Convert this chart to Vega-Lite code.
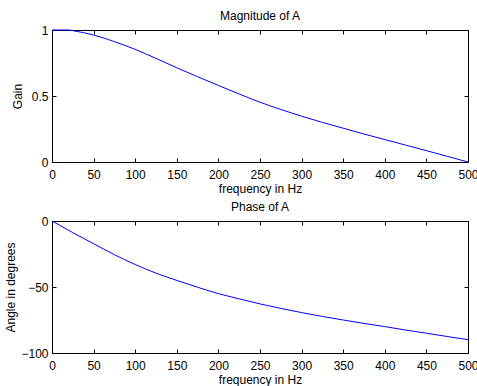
{
  "$schema": "https://vega.github.io/schema/vega-lite/v6.json",
  "padding": {"left": 4, "top": 9, "right": 4, "bottom": 2},
  "background": "white",
  "config": {
    "font": "Liberation Sans",
    "view": {"stroke": "black", "strokeWidth": 1},
    "axis": {"labelFont": "Liberation Sans", "titleFont": "Liberation Sans", "labelFontSize": 12, "titleFontSize": 12, "titleFontWeight": "normal", "labelColor": "black", "titleColor": "black", "domainColor": "black", "tickColor": "black", "grid": false, "tickSize": -4, "labelFlush": false, "labelOverlap": false},
    "axisX": {"labelPadding": 11, "titlePadding": 3},
    "axisY": {"labelPadding": 8},
    "title": {"font": "Liberation Sans", "fontSize": 12, "fontWeight": "normal", "color": "black", "offset": 1}
  },
  "datasets": {
    "mag": [
      {"f": 0, "v": 1}, {"f": 10, "v": 1}, {"f": 20, "v": 1}, {"f": 25, "v": 0.995},
      {"f": 50, "v": 0.962}, {"f": 75, "v": 0.912}, {"f": 100, "v": 0.853}, {"f": 125, "v": 0.785},
      {"f": 150, "v": 0.714}, {"f": 175, "v": 0.646}, {"f": 200, "v": 0.58}, {"f": 225, "v": 0.515},
      {"f": 250, "v": 0.453}, {"f": 275, "v": 0.398}, {"f": 300, "v": 0.347}, {"f": 325, "v": 0.3},
      {"f": 350, "v": 0.256}, {"f": 375, "v": 0.212}, {"f": 400, "v": 0.17}, {"f": 425, "v": 0.128},
      {"f": 450, "v": 0.086}, {"f": 475, "v": 0.043}, {"f": 500, "v": 0}
    ],
    "phase": [
      {"f": 0, "v": 0}, {"f": 25, "v": -8.8}, {"f": 50, "v": -17.2}, {"f": 75, "v": -25.5},
      {"f": 100, "v": -33}, {"f": 125, "v": -39.5}, {"f": 150, "v": -45}, {"f": 175, "v": -50.2},
      {"f": 200, "v": -55}, {"f": 225, "v": -59}, {"f": 250, "v": -62.8}, {"f": 275, "v": -66.2},
      {"f": 300, "v": -69.4}, {"f": 325, "v": -72.3}, {"f": 350, "v": -75}, {"f": 375, "v": -77.6},
      {"f": 400, "v": -80}, {"f": 425, "v": -82.6}, {"f": 450, "v": -85}, {"f": 475, "v": -87.5},
      {"f": 500, "v": -89.9}
    ]
  },
  "vconcat": [
    {
      "title": "Magnitude of A",
      "width": 416,
      "height": 132,
      "data": {"name": "mag"},
      "layer": [
        {
          "mark": {"type": "line", "color": "#0000ff", "strokeWidth": 1, "interpolate": "monotone"},
          "encoding": {
            "x": {"field": "f", "type": "quantitative", "scale": {"domain": [0, 500], "nice": false, "zero": false}, "axis": {"values": [0,50,100,150,200,250,300,350,400,450,500], "title": "frequency in Hz"}},
            "y": {"field": "v", "type": "quantitative", "scale": {"domain": [0, 1], "nice": false}, "axis": {"values": [0, 0.5, 1], "format": "~g", "title": "Gain", "titlePadding": 7}}
          }
        },
        {
          "mark": {"type": "line", "opacity": 0},
          "encoding": {
            "x": {"field": "f", "type": "quantitative", "scale": {"domain": [0, 500], "nice": false, "zero": false}, "axis": {"orient": "top", "values": [0,50,100,150,200,250,300,350,400,450,500], "labels": false, "title": null}},
            "y": {"field": "v", "type": "quantitative", "scale": {"domain": [0, 1], "nice": false}, "axis": {"orient": "right", "values": [0, 0.5, 1], "labels": false, "title": null}}
          }
        }
      ],
      "resolve": {"axis": {"x": "independent", "y": "independent"}}
    },
    {
      "title": "Phase of A",
      "width": 416,
      "height": 132,
      "data": {"name": "phase"},
      "layer": [
        {
          "mark": {"type": "line", "color": "#0000ff", "strokeWidth": 1, "interpolate": "monotone"},
          "encoding": {
            "x": {"field": "f", "type": "quantitative", "scale": {"domain": [0, 500], "nice": false, "zero": false}, "axis": {"values": [0,50,100,150,200,250,300,350,400,450,500], "title": "frequency in Hz"}},
            "y": {"field": "v", "type": "quantitative", "scale": {"domain": [-100, 0], "nice": false}, "axis": {"values": [-100, -50, 0], "title": "Angle in degrees", "titlePadding": 3}}
          }
        },
        {
          "mark": {"type": "line", "opacity": 0},
          "encoding": {
            "x": {"field": "f", "type": "quantitative", "scale": {"domain": [0, 500], "nice": false, "zero": false}, "axis": {"orient": "top", "values": [0,50,100,150,200,250,300,350,400,450,500], "labels": false, "title": null}},
            "y": {"field": "v", "type": "quantitative", "scale": {"domain": [-100, 0], "nice": false}, "axis": {"orient": "right", "values": [-100, -50, 0], "labels": false, "title": null}}
          }
        }
      ],
      "resolve": {"axis": {"x": "independent", "y": "independent"}}
    }
  ],
  "spacing": 5
}
